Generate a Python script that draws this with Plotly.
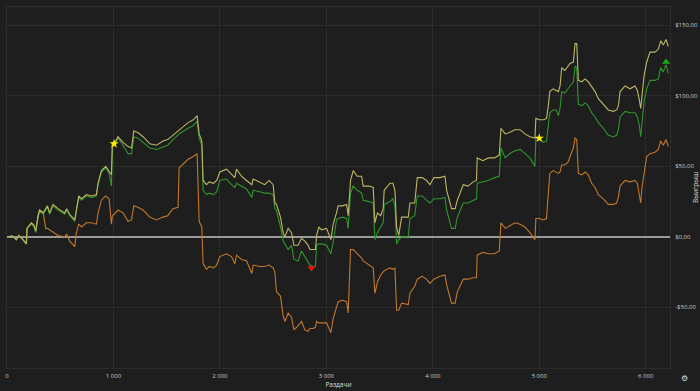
import plotly.graph_objects as go

hands = [0, 50, 88, 110, 150, 182, 188, 229, 255, 270, 292, 307, 340, 364, 380, 401, 432, 480, 542, 560, 589, 636, 652, 674, 700, 746, 793, 840, 855, 887, 928, 959, 981, 990, 1006, 1043, 1090, 1137, 1170, 1191, 1230, 1278, 1341, 1404, 1466, 1510, 1560, 1607, 1617, 1701, 1750, 1786, 1805, 1830, 1842, 1874, 1900, 1940, 1970, 1999, 2062, 2109, 2140, 2156, 2203, 2250, 2300, 2312, 2375, 2420, 2462, 2500, 2516, 2531, 2569, 2594, 2610, 2641, 2673, 2695, 2735, 2767, 2798, 2829, 2845, 2876, 2898, 2908, 2930, 2955, 3002, 3042, 3064, 3095, 3111, 3150, 3190, 3205, 3227, 3252, 3290, 3331, 3346, 3400, 3440, 3456, 3480, 3510, 3534, 3543, 3597, 3625, 3644, 3660, 3680, 3707, 3769, 3785, 3830, 3854, 3900, 3940, 3973, 4010, 4067, 4114, 4130, 4176, 4210, 4230, 4286, 4330, 4380, 4410, 4417, 4470, 4521, 4580, 4624, 4640, 4680, 4720, 4771, 4820, 4865, 4912, 4959, 4968, 5000, 5040, 5068, 5083, 5099, 5130, 5160, 5180, 5195, 5211, 5240, 5270, 5289, 5320, 5336, 5352, 5367, 5400, 5430, 5460, 5492, 5524, 5555, 5602, 5649, 5696, 5727, 5743, 5759, 5806, 5852, 5899, 5921, 5940, 5953, 5965, 5984, 6009, 6040, 6087, 6118, 6141, 6165, 6191, 6212]

net_won = [0, 0.5, -2, 1, -2, -5, 6, 10, 8, 4, 15, 19, 17, 20, 22, 17, 23, 20, 17, 20, 16, 12, 20, 29, 27, 30, 29, 30, 38, 47, 50, 46, 44, 67, 66, 71, 67, 64, 63, 75, 74, 71, 66, 65, 68, 69, 72, 75, 76, 81, 83, 86, 73, 68, 40, 37, 39, 38, 40, 46, 48, 44, 42, 48, 43, 40, 37, 41, 39, 37, 40, 37, 24, 23, 14, 3, 0, 6, 3, -6, -6, -1, -3, -6, -9, -9, -9, 1, 7, 5, 6, -2, 9, 17, 22, 22, 23, 15, 40, 47, 43, 43, 36, 36, 35, 10, 17, 15, 20, 33, 38, 38, 33, 7, 1, 14, 14, 24, 24, 42, 42, 40, 37, 42, 42, 43, 33, 20, 20, 26, 37, 36, 39, 40, 56, 54, 56, 56, 58, 77, 73, 74, 76, 76, 73, 71, 70, 84, 83, 83, 84, 92, 103, 105, 104, 103, 107, 120, 118, 121, 123, 124, 137, 137, 111, 110, 112, 110, 106, 103, 98, 94, 90, 89, 90, 93, 103, 107, 105, 107, 104, 97, 91, 100, 114, 124, 131, 131, 133, 139, 136, 140, 135]

allin_ev = [0, 0.5, -2, 1, -2, -5, 6, 9, 7, 3, 14, 18, 16, 19, 21, 16, 22, 19, 16, 19, 15, 11, 19, 28, 26, 29, 28, 29, 37, 46, 49, 45, 36, 66, 65, 70, 65, 59, 59, 71, 70, 67, 63, 62, 64, 65, 69, 72, 73, 77, 79, 82, 70, 65, 33, 30, 31, 30, 32, 40, 41, 37, 35, 38, 36, 34, 28, 33, 32, 31, 31, 30, 20, 19, 7, -3, -5, -9, -6, -16, -17, -10, -14, -18, -20, -21, -21, -6, -5, -5, -6, -12, -4, 12, 13, 14, 13, 6, 31, 36, 33, 31, 26, 25, 24, -2, 3, 7, 10, 23, 25, 27, 22, -5, -2, 0, 0, 13, 15, 29, 29, 26, 24, 27, 27, 28, 19, 6, 6, 14, 24, 24, 26, 27, 38, 39, 40, 42, 43, 63, 56, 59, 61, 62, 59, 56, 50, 70, 70, 67, 68, 77, 88, 90, 90, 86, 91, 103, 102, 105, 107, 110, 121, 120, 94, 93, 95, 93, 88, 85, 81, 77, 72, 71, 72, 76, 85, 89, 88, 88, 85, 79, 71, 83, 96, 105, 111, 111, 112, 120, 117, 122, 116]

no_showdown = [0, 0.5, -2, 1, -2, -5, 6, 10, 8, 4, 15, 19, 17, 6, 6, 5, 3, 1, 0, 2, -3, -7, 3, 9, 7, 10, 10, 9, 17, 26, 29, 27, 9, 15, 16, 19, 17, 11, 12, 22, 21, 19, 14, 12, 14, 15, 20, 21, 49, 55, 57, 59, 11, 7, -19, -23, -21, -22, -20, -14, -12, -14, -19, -13, -16, -17, -26, -20, -21, -21, -20, -22, -25, -39, -42, -56, -60, -54, -57, -66, -63, -60, -66, -67, -65, -65, -64, -60, -61, -61, -61, -68, -58, -50, -46, -45, -46, -54, -9, -9, -12, -15, -17, -20, -22, -40, -32, -27, -25, -24, -22, -23, -22, -52, -52, -47, -48, -40, -35, -30, -28, -30, -33, -30, -28, -27, -34, -47, -47, -39, -30, -30, -29, -29, -13, -11, -12, -12, -10, 10, 6, 8, 10, 9, 7, 3, -2, 13, 13, 12, 13, 29, 45, 47, 46, 45, 46, 51, 51, 53, 57, 63, 70, 69, 45, 44, 46, 44, 38, 35, 30, 27, 23, 23, 24, 28, 36, 40, 39, 40, 38, 31, 24, 35, 46, 57, 59, 60, 62, 68, 65, 69, 64]

x_ticks = [0, 1000, 2000, 3000, 4000, 5000, 6000]
x_tick_labels = ["0", "1 000", "2 000", "3 000", "4 000", "5 000", "6 000"]
y_ticks = [-50, 0, 50, 100, 150]
y_tick_labels = ["-$50,00", "$0,00", "$50,00", "$100,00", "$150,00"]

star_hands = [1006, 5000]
star_values = [66, 70]
min_hand, min_value = [2861], [-22]
max_hand, max_value = [6191], [124]

fig = go.Figure()
fig.add_trace(go.Scatter(x=hands, y=no_showdown, mode="lines",
                         line=dict(color="#c2772c", width=1.1)))
fig.add_trace(go.Scatter(x=hands, y=allin_ev, mode="lines",
                         line=dict(color="#2e962b", width=1.1)))
fig.add_trace(go.Scatter(x=hands, y=net_won, mode="lines",
                         line=dict(color="#bdb663", width=1.1)))
fig.add_trace(go.Scatter(x=star_hands, y=star_values, mode="markers",
                         marker=dict(symbol="star", color="#ffee00", size=7)))
fig.add_trace(go.Scatter(x=min_hand, y=min_value, mode="markers",
                         marker=dict(symbol="triangle-down", color="#ee1111", size=7)))
fig.add_trace(go.Scatter(x=max_hand, y=max_value, mode="markers",
                         marker=dict(symbol="triangle-up", color="#11aa11", size=7)))

fig.update_layout(
    width=700, height=391,
    margin=dict(l=7, r=30, t=7, b=23, autoexpand=False),
    paper_bgcolor="#1e1e1e", plot_bgcolor="#1e1e1e",
    showlegend=False, hovermode=False,
    font=dict(family="Open Sans, sans-serif", color="#cccccc", size=6),
    xaxis=dict(range=[0, 6228], tickvals=x_ticks, ticktext=x_tick_labels,
               showgrid=True, gridcolor="#2c2c2c", gridwidth=1, zeroline=False,
               showline=True, linecolor="#2c2c2c", mirror=True,
               ticks="", ticklabelstandoff=2,
               title=dict(text="Раздачи", font=dict(size=6.5, color="#dddddd"), standoff=2)),
    yaxis=dict(range=[-93, 163], tickvals=y_ticks, ticktext=y_tick_labels,
               side="right", showgrid=True, gridcolor="#2c2c2c", gridwidth=1,
               zeroline=True, zerolinecolor="#9a9a9a", zerolinewidth=2,
               showline=True, linecolor="#2c2c2c", mirror=True,
               ticks="", ticklabelstandoff=3,
               title=dict(text="Выигрыш", font=dict(size=6.5, color="#dddddd"), standoff=4)),
)
fig.add_annotation(text="⚙", xref="paper", yref="paper", x=(690 - 7) / 663, y=(368 - 385) / 361,
                   showarrow=False, font=dict(size=8, color="#dddddd"))
fig.write_html("out.html", config={"displayModeBar": False},
               post_script="document.body.style.margin='0';")
